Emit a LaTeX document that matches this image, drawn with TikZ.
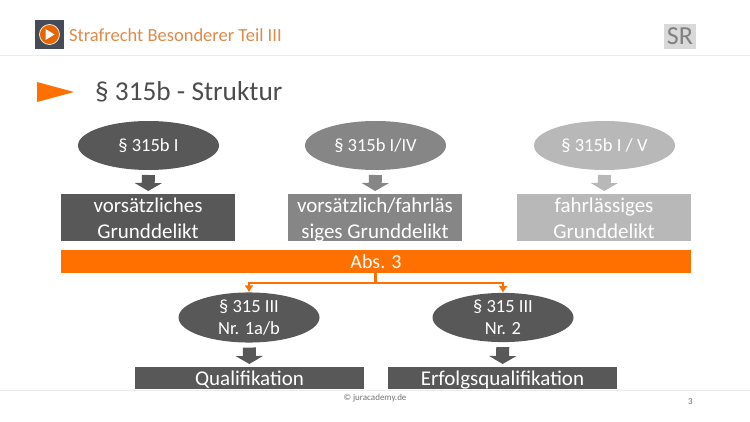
\documentclass[tikz,border=0pt]{standalone}
\usepackage{fontspec}
\setmainfont{Carlito}
\usetikzlibrary{positioning,arrows.meta,shapes.geometric}
\definecolor{juraorange}{HTML}{FF7000}
\definecolor{juradark}{HTML}{585858}
\definecolor{juramid}{HTML}{868686}
\definecolor{juralight}{HTML}{B8B8B8}
\definecolor{juraslate}{HTML}{454B58}
\definecolor{jurahead}{HTML}{DE8A48}
\newcommand{\twolines}[2]{\rule{0pt}{24.8pt}#1\\\strut #2}
\tikzset{
  x=1pt, y=-1pt,
  oval/.style={ellipse, minimum width=141pt, minimum height=49pt, inner sep=0pt, outer sep=0pt,
               text=white, align=center, font=\fontsize{18.5}{22}\selectfont},
  boxtext/.style={inner sep=0pt, text=white, align=center, font=\fontsize{21}{26}\selectfont},
  bluntbox/.style={rectangle, minimum width=174pt, minimum height=47pt, inner sep=0pt, outer sep=0pt},
  widebox/.style={bluntbox, boxtext, align=none, minimum width=229pt, minimum height=22pt, text height=18pt, text depth=4pt},
  dark/.style={fill=juradark},
  mid/.style={fill=juramid},
  light/.style={fill=juralight},
  block/.style={-{Triangle[width=27pt,length=8pt]}, line width=13pt, shorten >=3pt},
  branch/.style={-{Latex[width=9pt,length=7pt]}, juraorange, line width=2.2pt},
}
\begin{document}
\begin{tikzpicture}
  \useasboundingbox[fill=white] (0,0) rectangle (750,422);

  % header and footer
  \fill[black!8] (0,55) rectangle (750,56.5);
  \fill[black!8] (0,389.7) rectangle (750,390.7);
  \node[fill=juraslate, minimum size=29pt, inner sep=0pt] (icon) at (49.5,34.5) {};
  \node[circle, draw=white!80!orange, fill=juraorange!90!black, line width=0.8pt, minimum size=20pt, inner sep=0pt] (ring) at (icon) {};
  \fill[white] (45.5,29) -- (54.5,34.5) -- (45.5,40) -- cycle;
  \node[anchor=west, inner sep=0pt, text=jurahead, font=\fontsize{18.5}{22}\selectfont] (course) at (69,35) {Strafrecht Besonderer Teil III};
  \node[fill=black!15, text=black!50, minimum width=32pt, minimum height=25pt, inner sep=0pt, font=\fontsize{26}{30}\selectfont] (badge) at (680,36.5) {SR};
  \fill[juraorange] (37,82) -- (74,92) -- (37,102) -- cycle;
  \node[anchor=west, inner sep=0pt, text=black!70, font=\fontsize{27.3}{32}\selectfont] (title) at (95,92) {§ 315b - Struktur};

  % upper row
  \node[oval, dark] (ovalA) at (148.5,145.5) {§ 315b I};
  \node[oval, mid] (ovalB) at (375.5,145.5) {§ 315b I/IV};
  \node[oval, light] (ovalC) at (604.5,145.5) {§ 315b I / V};
  \node[bluntbox, dark, label={[boxtext]center:{\twolines{vorsätzliches}{Grunddelikt}}}] (boxA) at (148,217.5) {};
  \node[bluntbox, mid, label={[boxtext]center:{\twolines{vorsätzlich/fahrläs}{siges Grunddelikt}}}] (boxB) at (375,217.5) {};
  \node[bluntbox, light, label={[boxtext]center:{\twolines{fahrlässiges}{Grunddelikt}}}] (boxC) at (604,217.5) {};

  \draw[block, juradark, shorten <=5pt] (ovalA) -- (boxA);
  \draw[block, juramid, shorten <=5pt] (ovalB) -- (boxB);
  \draw[block, juralight, shorten <=5pt] (ovalC) -- (boxC);

  \node[fill=juraorange, minimum width=630pt, minimum height=23pt, inner sep=0pt, outer sep=0pt,
        text=white, font=\fontsize{20}{24}\selectfont] (bar) at (376,261.5) {Abs. 3};

  % lower row
  \node[oval, dark] (ovalD) at (249,317.5) {§ 315 III\\Nr. 1a/b};
  \node[oval, dark] (ovalE) at (503,317.5) {§ 315 III\\Nr. 2};
  \node[widebox, dark] (boxD) at (249.5,378) {Qualifikation};
  \node[widebox, dark] (boxE) at (502.5,378) {Erfolgsqualifikation};

  \coordinate (fork) at (375.5,283);
  \draw[branch] (bar.south -| fork) -- (fork) -| (ovalD.north);
  \draw[branch] (fork) -| (ovalE.north);

  \draw[block, juradark, shorten <=5pt] (ovalD) -- (boxD);
  \draw[block, juradark, shorten <=5pt] (ovalE) -- (boxE);

  \node[text=black!55, inner sep=0pt, font=\fontsize{9}{11}\selectfont] (copy) at (375,398.5) {© juracademy.de};
  \node[text=black!55, inner sep=0pt, font=\fontsize{9}{11}\selectfont] (pagenr) at (690.5,402) {3};
\end{tikzpicture}
\end{document}
